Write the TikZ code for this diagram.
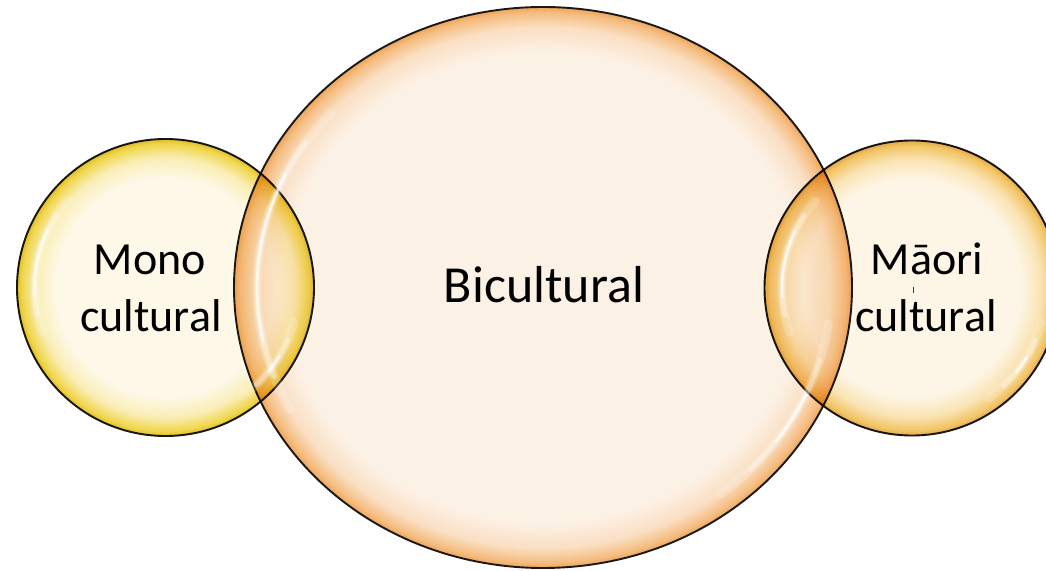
\documentclass[tikz,border=0pt]{standalone}
\usepackage{fontspec}
\setmainfont{Carlito}
\usetikzlibrary{shapes.geometric}
\definecolor{bigin}{HTML}{FCF1E5}
\definecolor{bigmid}{HTML}{FADFC3}
\definecolor{bigrim}{HTML}{F5BD80}
\definecolor{bigedge}{HTML}{EFA558}
\definecolor{monoin}{HTML}{FDF8E7}
\definecolor{monomid}{HTML}{FAEEB6}
\definecolor{monorim}{HTML}{F0D64C}
\definecolor{monoedge}{HTML}{DEBD28}
\definecolor{maoin}{HTML}{FDF5E5}
\definecolor{maomid}{HTML}{FAE4B4}
\definecolor{maorim}{HTML}{F2C464}
\definecolor{maoedge}{HTML}{E3A848}
\pgfdeclareradialshading{bigsh}{\pgfpoint{0bp}{0bp}}{color(0bp)=(bigin); color(21bp)=(bigin); color(23.2bp)=(bigmid); color(24.5bp)=(bigrim); color(25bp)=(bigedge); color(50bp)=(bigedge)}
\pgfdeclareradialshading{monosh}{\pgfpoint{0bp}{0bp}}{color(0bp)=(monoin); color(18.5bp)=(monoin); color(21.8bp)=(monomid); color(24.2bp)=(monorim); color(25bp)=(monoedge); color(50bp)=(monoedge)}
\pgfdeclareradialshading{maosh}{\pgfpoint{0bp}{0bp}}{color(0bp)=(maoin); color(18.5bp)=(maoin); color(21.8bp)=(maomid); color(24.2bp)=(maorim); color(25bp)=(maoedge); color(50bp)=(maoedge)}
\newcommand\hlarc[5]{%
  \pgfmathsetmacro\hlsa{#4+8}\pgfmathsetmacro\hlea{#5-8}%
  \pgfmathsetmacro\hlsb{#4+16}\pgfmathsetmacro\hleb{#5-16}%
  \draw[hlstroke, line width=9pt, opacity=.18] (#1.center) ++(#4:#2 and #3) arc[start angle=#4, end angle=#5, x radius=#2, y radius=#3];
  \draw[hlstroke, line width=5pt, opacity=.35] (#1.center) ++(\hlsa:#2 and #3) arc[start angle=\hlsa, end angle=\hlea, x radius=#2, y radius=#3];
  \draw[hlstroke, line width=2.5pt, opacity=.7] (#1.center) ++(\hlsb:#2 and #3) arc[start angle=\hlsb, end angle=\hleb, x radius=#2, y radius=#3];
}
\begin{document}
\begin{tikzpicture}[x=1pt,y=1pt,
  outline/.style={draw=black!90, line width=1.9pt},
  hlstroke/.style={draw=white, line cap=round},
  bigtext/.style={font=\fontsize{52}{62}\selectfont, anchor=base, inner sep=0pt},
  smalltext/.style={font=\fontsize{46}{56}\selectfont, anchor=base, inner sep=0pt}]
\fill[white] (0,0) rectangle (1046,570);
\useasboundingbox (0,0) rectangle (1046,570);
\node[ellipse, minimum width=618pt, minimum height=561pt, inner sep=0pt, shading=bigsh, outline] (bic) at (543,282.5) {};
\node[circle, minimum size=297pt, inner sep=0pt, shading=monosh, outline, blend mode=multiply] (mono) at (165.5,282.5) {};
\node[circle, minimum size=295pt, inner sep=0pt, shading=maosh, outline, blend mode=multiply] (mao) at (912,282) {};
\hlarc{bic}{286}{260}{138}{208}
\hlarc{bic}{288}{262}{-52}{-8}
\hlarc{mono}{131}{131}{138}{200}
\hlarc{mono}{133}{133}{-55}{-15}
\hlarc{mao}{130}{130}{138}{200}
\hlarc{mao}{134}{134}{-55}{-15}
\node[bigtext] (bict) at (544,267) {Bicultural};
\node[smalltext] (mono1) at (150,295) {Mono};
\node[smalltext] (mono2) at (151,238) {cultural};
\node[smalltext] (mao1) at (927,295) {Māori};
\node[smalltext] (mao2) at (926,238) {cultural};
\draw[black!80, line width=0.8pt] (913,283) -- (913,277);
\end{tikzpicture}
\end{document}
